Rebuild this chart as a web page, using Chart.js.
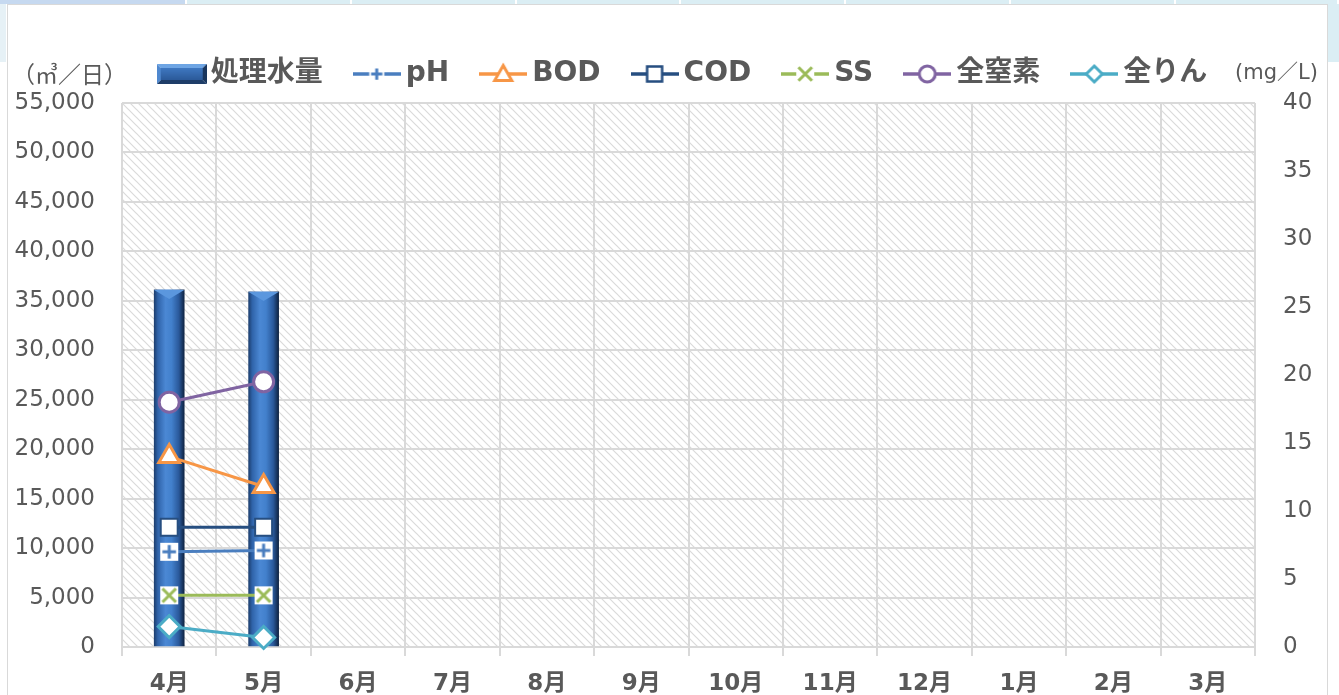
<!DOCTYPE html>
<html lang="ja">
<head>
<meta charset="utf-8">
<title>処理水量と放流水質</title>
<script src="https://cdn.jsdelivr.net/npm/chart.js@4.4.1/dist/chart.umd.min.js"></script>
<style>
  html, body { margin: 0; padding: 0; background: #fff; overflow: hidden; }
  body { width: 1339px; height: 695px; position: relative; }
  .cells { position: absolute; left: 0; top: 0; width: 1339px; height: 4px; display: flex; }
  .cells div { height: 4px; background: #dbeef4; border-right: 2px solid #fff; box-sizing: border-box; }
  .cells div:first-child { background: #c6d9f0; }
  .side-l { position: absolute; left: 0; top: 4px; width: 6px; height: 58px; background: #e6f1f6; }
  .side-r { position: absolute; left: 1328px; top: 4px; width: 11px; height: 58px; background: #dbeef4; }
  .frame { position: absolute; left: 7px; top: 4px; width: 1319px; height: 700px; border: 1px solid #d9d9d9; border-bottom: none; }
  .chart-box { position: absolute; left: 8px; top: 5px; width: 1318px; height: 700px; }
</style>
</head>
<body>
<div class="cells">
  <div style="width:187px"></div><div style="width:165px"></div><div style="width:165px"></div>
  <div style="width:164px"></div><div style="width:165px"></div><div style="width:165px"></div>
  <div style="width:165px"></div><div style="flex:1"></div>
</div>
<div class="side-l"></div>
<div class="side-r"></div>
<div class="frame"></div>
<div class="chart-box"><canvas id="waterChart"></canvas></div>

<script>
// data
const months = ['4月', '5月', '6月', '7月', '8月', '9月', '10月', '11月', '12月', '1月', '2月', '3月'];
const flowVolume = [36100, 35900];
const phValues = [7.0, 7.1];
const bodValues = [14.0, 11.8];
const codValues = [8.8, 8.8];
const ssValues = [3.8, 3.8];
const nitrogenValues = [18.0, 19.5];
const phosphorusValues = [1.5, 0.7];

const FLOW_MAX = 55000, FLOW_STEP = 5000;
const QUALITY_MAX = 40, QUALITY_STEP = 5;

const COLORS = {
    text: '#595959',
    grid: '#d9d9d9',
    ph: '#4a7ebf',
    bod: '#f79646',
    cod: '#264e80',
    ss: '#9bbb59',
    nitrogen: '#8064a2',
    phosphorus: '#4bacc6'
};

// DejaVu for the latin glyphs (close to Meiryo's), Noto CJK for the rest
const FONT = "'DejaVu Sans', 'Noto Sans CJK JP', sans-serif";
const CJK_FONT = "'Noto Sans CJK JP', sans-serif";
const BAR_WIDTH = 30;

Chart.defaults.font.family = FONT;
Chart.defaults.color = COLORS.text;

// marker drawing, used for legend icons and image point styles
function drawMarker(g, kind, x, y, s, color) {
    const h = s / 2;
    g.save();
    g.fillStyle = '#fff';
    g.strokeStyle = color;
    g.lineWidth = 3;
    g.beginPath();
    if (kind === 'plus' || kind === 'cross') {
        g.fillRect(x - h, y - h, s, s);
        const k = h * 0.75;
        if (kind === 'plus') {
            g.moveTo(x - k, y); g.lineTo(x + k, y);
            g.moveTo(x, y - k); g.lineTo(x, y + k);
        } else {
            g.moveTo(x - k, y - k); g.lineTo(x + k, y + k);
            g.moveTo(x + k, y - k); g.lineTo(x - k, y + k);
        }
        g.stroke();
    } else if (kind === 'square') {
        g.lineWidth = 2.5;
        g.rect(x - h, y - h, s, s);
        g.fill(); g.stroke();
    } else if (kind === 'triangle') {
        g.moveTo(x, y - h);
        g.lineTo(x + h, y + h * 0.75);
        g.lineTo(x - h, y + h * 0.75);
        g.closePath();
        g.fill(); g.stroke();
    } else if (kind === 'circle') {
        g.arc(x, y, h, 0, Math.PI * 2);
        g.fill(); g.stroke();
    } else if (kind === 'diamond') {
        g.moveTo(x, y - h); g.lineTo(x + h, y); g.lineTo(x, y + h); g.lineTo(x - h, y);
        g.closePath();
        g.fill(); g.stroke();
    }
    g.restore();
}

function markerImage(kind, color, size) {
    const c = document.createElement('canvas');
    c.width = size + 4;
    c.height = size + 4;
    drawMarker(c.getContext('2d'), kind, c.width / 2, c.height / 2, size, color);
    return c;
}

function lineIcon(kind, color, size) {
    const c = document.createElement('canvas');
    c.width = 48;
    c.height = 24;
    const g = c.getContext('2d');
    g.strokeStyle = color;
    g.lineWidth = 3.5;
    g.beginPath();
    g.moveTo(0, 12);
    g.lineTo(48, 12);
    g.stroke();
    drawMarker(g, kind, 24, 12, size, color);
    return c;
}

function poly(g, pts, fill) {
    g.fillStyle = fill;
    g.beginPath();
    g.moveTo(pts[0][0], pts[0][1]);
    for (let i = 1; i < pts.length; i++) {
        g.lineTo(pts[i][0], pts[i][1]);
    }
    g.closePath();
    g.fill();
}

function barIcon() {
    const c = document.createElement('canvas');
    const w = 50, h = 20, b = 4;
    c.width = w;
    c.height = h;
    const g = c.getContext('2d');
    poly(g, [[0, 0], [w, 0], [w - b, b], [b, b]], '#6ea5e4');
    poly(g, [[0, h], [w, h], [w - b, h - b], [b, h - b]], '#1e3d68');
    poly(g, [[0, 0], [b, b], [b, h - b], [0, h]], '#4f88cf');
    poly(g, [[w, 0], [w - b, b], [w - b, h - b], [w, h]], '#19365e');
    const grad = g.createLinearGradient(0, b, 0, h - b);
    grad.addColorStop(0, '#3f78c1');
    grad.addColorStop(1, '#2b5a99');
    g.fillStyle = grad;
    g.fillRect(b, b, w - 2 * b, h - 2 * b);
    return c;
}

const phPoint = markerImage('plus', COLORS.ph, 18);
const ssPoint = markerImage('cross', COLORS.ss, 18);

const legendIcons = [
    barIcon(),
    lineIcon('plus', COLORS.ph, 15),
    lineIcon('triangle', COLORS.bod, 17),
    lineIcon('square', COLORS.cod, 15),
    lineIcon('cross', COLORS.ss, 18),
    lineIcon('circle', COLORS.nitrogen, 16),
    lineIcon('diamond', COLORS.phosphorus, 16)
];

// 3D-ish horizontal shading of the column
function barFill(context) {
    const chart = context.chart;
    const x = chart.scales.x ? chart.scales.x.getPixelForValue(context.dataIndex) : NaN;
    if (!isFinite(x)) {
        return '#3466a8';
    }
    const g = chart.ctx.createLinearGradient(x - BAR_WIDTH / 2, 0, x + BAR_WIDTH / 2, 0);
    g.addColorStop(0, '#1d3f70');
    g.addColorStop(0.12, '#2f63a9');
    g.addColorStop(0.38, '#4b88d4');
    g.addColorStop(0.58, '#4280cc');
    g.addColorStop(0.82, '#2a599b');
    g.addColorStop(1, '#0f2443');
    return g;
}

// hatched plot background
const hatch = document.createElement('canvas');
hatch.width = 8;
hatch.height = 8;
(function () {
    const g = hatch.getContext('2d');
    g.fillStyle = '#fff';
    g.fillRect(0, 0, 8, 8);
    g.strokeStyle = '#dadada';
    g.lineWidth = 1.2;
    g.beginPath();
    g.moveTo(-1, -1); g.lineTo(9, 9);
    g.moveTo(-1, 7); g.lineTo(1, 9);
    g.moveTo(7, -1); g.lineTo(9, 1);
    g.stroke();
})();

const hatchBackground = {
    id: 'hatchBackground',
    beforeDraw(chart) {
        const {ctx, chartArea} = chart;
        ctx.save();
        ctx.fillStyle = ctx.createPattern(hatch, 'repeat');
        ctx.fillRect(chartArea.left, chartArea.top, chartArea.right - chartArea.left, chartArea.bottom - chartArea.top);
        ctx.restore();
    }
};

// bevelled top of each column
const barTop = {
    id: 'barTop',
    afterDatasetDraw(chart, args) {
        if (args.index !== 0) return;
        const ctx = chart.ctx;
        args.meta.data.forEach(function (bar) {
            const p = bar.getProps(['x', 'y', 'width'], true);
            if (!isFinite(p.y)) return;
            const l = p.x - p.width / 2, r = p.x + p.width / 2;
            ctx.save();
            poly(ctx, [[l, p.y], [r, p.y], [p.x, p.y + 9]], '#5b97de');
            ctx.restore();
        });
    }
};

// unit captions beside the legend
const unitLabels = {
    id: 'unitLabels',
    afterDraw(chart) {
        const box = chart.legend.legendHitBoxes[0];
        if (!box) return;
        const y = box.top + box.height / 2;
        const ctx = chart.ctx;
        ctx.save();
        ctx.fillStyle = COLORS.text;
        ctx.textBaseline = 'middle';
        ctx.font = '23px ' + CJK_FONT;
        ctx.textAlign = 'right';
        ctx.fillText('（㎥／日）', chart.chartArea.left + 5, y);
        ctx.font = '21px ' + FONT;
        ctx.textAlign = 'left';
        ctx.fillText('(mg／L)', chart.chartArea.right - 20, y);
        ctx.restore();
    }
};

function qualityLine(label, values, color, extra) {
    return Object.assign({
        type: 'line',
        label: label,
        data: values,
        yAxisID: 'y1',
        borderColor: color,
        borderWidth: 3,
        pointBackgroundColor: '#fff',
        pointBorderColor: color,
        pointBorderWidth: 3,
        clip: false,
        order: 1
    }, extra);
}

const data = {
    labels: months,
    datasets: [
        {
            type: 'bar',
            label: '処理水量',
            data: flowVolume,
            yAxisID: 'y',
            backgroundColor: barFill,
            barThickness: BAR_WIDTH,
            order: 2
        },
        qualityLine('pH', phValues, COLORS.ph, { pointStyle: phPoint, pointRadius: 9 }),
        qualityLine('BOD', bodValues, COLORS.bod, { pointStyle: 'triangle', pointRadius: 12 }),
        qualityLine('COD', codValues, COLORS.cod, { pointStyle: 'rect', pointRadius: 12, pointBorderWidth: 2 }),
        qualityLine('SS', ssValues, COLORS.ss, { pointStyle: ssPoint, pointRadius: 9 }),
        qualityLine('全窒素', nitrogenValues, COLORS.nitrogen, { pointStyle: 'circle', pointRadius: 10 }),
        qualityLine('全りん', phosphorusValues, COLORS.phosphorus, { pointStyle: 'rectRot', pointRadius: 11 })
    ]
};

const config = {
    type: 'bar',
    data: data,
    options: {
        responsive: true,
        maintainAspectRatio: false,
        animation: false,
        // negative right padding pushes the centred legend a little to the right
        layout: { padding: { top: 16, left: 0, right: -40, bottom: 0 } },
        scales: {
            x: {
                grid: { offset: true, color: COLORS.grid, lineWidth: 2, tickLength: 9 },
                border: { display: false },
                ticks: {
                    color: COLORS.text,
                    font: { size: 23, weight: 'bold' },
                    padding: 14,
                    maxRotation: 0,
                    autoSkip: false
                },
                afterFit: function (scale) { scale.height = 58; }
            },
            y: {
                position: 'left',
                min: 0,
                max: FLOW_MAX,
                grid: { color: COLORS.grid, lineWidth: 2, drawTicks: false },
                border: { display: false },
                ticks: { stepSize: FLOW_STEP, color: COLORS.text, font: { size: 23 }, padding: 27 },
                afterFit: function (scale) { scale.width = 114; }
            },
            y1: {
                position: 'right',
                min: 0,
                max: QUALITY_MAX,
                grid: { drawOnChartArea: false, drawTicks: false },
                border: { display: false },
                ticks: { stepSize: QUALITY_STEP, color: COLORS.text, font: { size: 23 }, padding: 28 },
                afterFit: function (scale) { scale.width = 111; }
            }
        },
        plugins: {
            legend: {
                position: 'top',
                weight: 3000,
                labels: {
                    usePointStyle: true,
                    pointStyleWidth: 30,
                    padding: 39,
                    color: COLORS.text,
                    font: { size: 28, weight: 'bold' },
                    generateLabels: function (chart) {
                        return chart.data.datasets.map(function (ds, i) {
                            return {
                                text: ds.label,
                                fontColor: COLORS.text,
                                pointStyle: legendIcons[i],
                                fillStyle: 'transparent',
                                strokeStyle: 'transparent',
                                lineWidth: 0,
                                hidden: false,
                                datasetIndex: i
                            };
                        });
                    }
                }
            },
            // empty spacer between legend and plot area
            title: { display: true, text: '', padding: 0, font: { size: 5, lineHeight: 1 } },
            tooltip: { enabled: false }
        }
    },
    plugins: [hatchBackground, barTop, unitLabels]
};

const waterChart = new Chart(document.getElementById('waterChart'), config);
</script>
</body>
</html>
